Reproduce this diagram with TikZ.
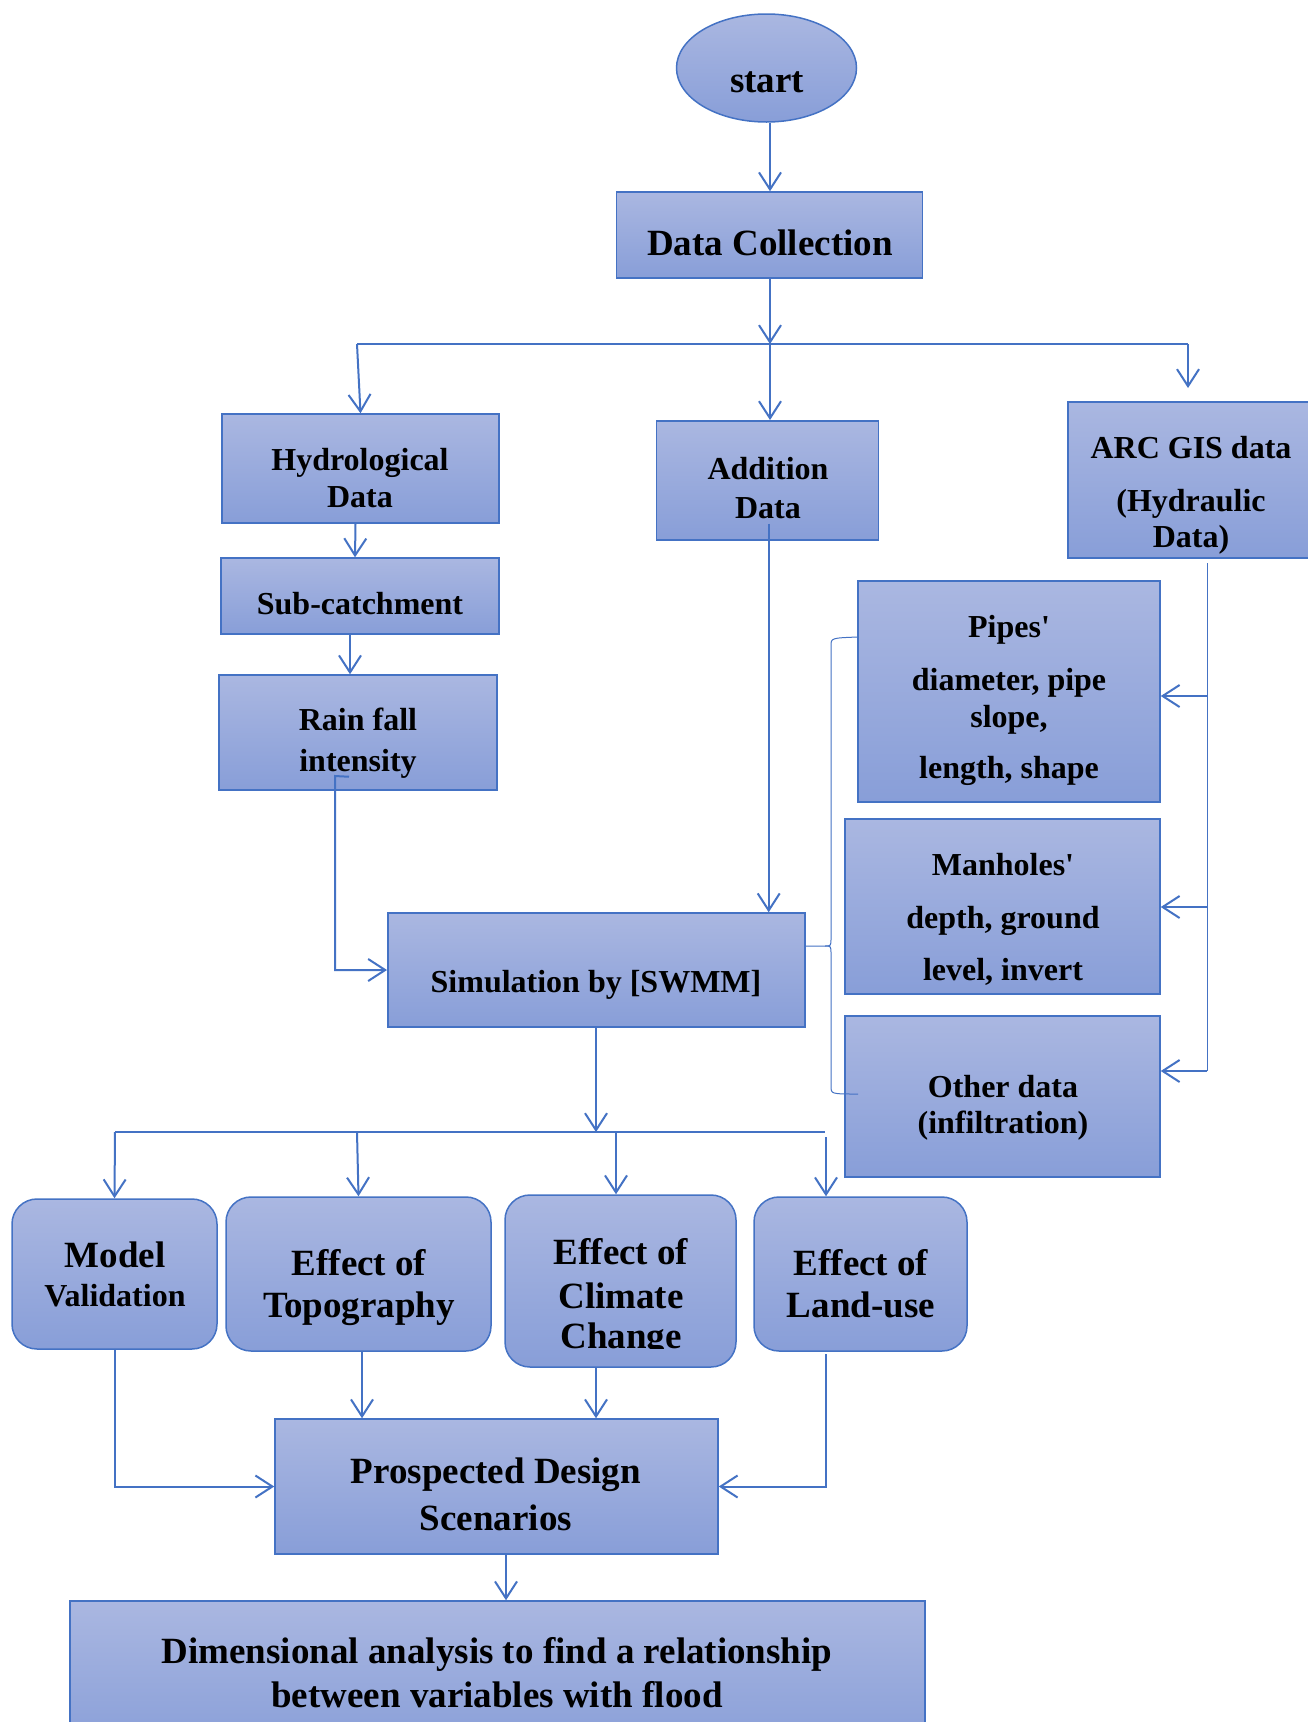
\documentclass[tikz,border=0pt]{standalone}
\usepackage{fontspec}
\setmainfont{Liberation Serif}
\usetikzlibrary{arrows.meta,shapes.geometric,calc}
\definecolor{bl}{RGB}{68,114,196}
\definecolor{ftop}{RGB}{170,183,225}
\definecolor{fbot}{RGB}{136,158,216}
\newcommand\fA{\fontsize{37}{44}\selectfont\bfseries}
\newcommand\fB{\fontsize{32}{38}\selectfont\bfseries}
\begin{document}
\begin{tikzpicture}[x=1pt,y=-1pt,
  box/.style={draw=bl, line width=1.5pt, top color=ftop, bottom color=fbot, inner sep=0pt},
  rbox/.style={box, rounded corners=25pt},
  tA/.style={anchor=base, inner sep=0pt, font=\fA},
  tB/.style={anchor=base, inner sep=0pt, font=\fB},
  arr/.style={draw=bl, line width=2pt, -{Straight Barb[length=17pt,width=22pt]}},
  ln/.style={draw=bl, line width=1.3pt},
  thin/.style={draw=bl, line width=1pt}]
\clip (0,0) rectangle (1308,1722);
\fill[white] (0,0) rectangle (1308,1722);

% ---------- boxes ----------
\node[box, ellipse, minimum width=180pt, minimum height=108pt] (start) at (766.5,68) {};
\node[box, minimum width=306pt, minimum height=86pt] (dc) at (769.5,235) {};
\node[box, minimum width=277pt, minimum height=109pt] (hyd) at (360.5,468.5) {};
\node[box, minimum width=222pt, minimum height=119pt] (add) at (767.7,480.3) {};
\node[box, minimum width=247pt, minimum height=156pt] (arc) at (1191.5,480) {};
\node[box, minimum width=278pt, minimum height=76pt] (sub) at (360,596) {};
\node[box, minimum width=278pt, minimum height=115pt] (rain) at (358,732.5) {};
\node[box, minimum width=302pt, minimum height=221pt] (pipes) at (1009,691.5) {};
\node[box, minimum width=315pt, minimum height=175pt] (man) at (1002.5,906.5) {};
\node[box, minimum width=315pt, minimum height=161pt] (oth) at (1002.5,1096.5) {};
\node[box, minimum width=417pt, minimum height=114pt] (sim) at (596.25,970) {};
\node[rbox, minimum width=205pt, minimum height=150pt] (mv) at (114.5,1274) {};
\node[rbox, minimum width=265pt, minimum height=154pt] (topo) at (358.5,1274) {};
\node[rbox, minimum width=231pt, minimum height=172pt] (clim) at (620.5,1281) {};
\node[rbox, minimum width=213pt, minimum height=154pt] (land) at (860.5,1274) {};
\node[box, minimum width=443pt, minimum height=135pt] (pros) at (496.5,1486.5) {};
\node[box, minimum width=855pt, minimum height=150pt] (dim) at (497.5,1676) {};

% ---------- texts ----------
\node[tA] (tstart) at (767,92) {start};
\node[tA] (tdc) at (770,255) {Data Collection};
\node[tB] (thyd1) at (360,470) {Hydrological};
\node[tB] (thyd2) at (360,507) {Data};
\node[tB] (tadd1) at (768,479) {Addition};
\node[tB] (tadd2) at (768,518) {Data};
\node[tB] (tarc1) at (1191,458) {ARC GIS data};
\node[tB] (tarc2) at (1191,511) {(Hydraulic};
\node[tB] (tarc3) at (1191,547) {Data)};
\node[tB] (tsub) at (360,614) {Sub-catchment};
\node[tB] (train1) at (358,730) {Rain fall};
\node[tB] (train2) at (358,771) {intensity};
\node[tB] (tpip1) at (1009,637) {Pipes\textquotesingle};
\node[tB] (tpip2) at (1009,690) {diameter, pipe};
\node[tB] (tpip3) at (1009,727) {slope,};
\node[tB] (tpip4) at (1009,778) {length, shape};
\node[tB] (tman1) at (1003,875) {Manholes\textquotesingle};
\node[tB] (tman2) at (1003,928) {depth, ground};
\node[tB] (tman3) at (1003,980) {level, invert};
\node[tB] (toth1) at (1003,1097) {Other data};
\node[tB] (toth2) at (1003,1133) {(infiltration)};
\node[tB] (tsim) at (596,992) {Simulation by [SWMM]};
\node[tA] (tmv1) at (115,1267) {Model};
\node[tB] (tmv2) at (115,1306) {Validation};
\node[tA] (ttop1) at (359,1275) {Effect of};
\node[tA] (ttop2) at (359,1317) {Topography};
\node[tA] (tcl1) at (621,1264) {Effect of};
\node[tA] (tcl2) at (621,1308) {Climate};
\begin{scope}
\clip (505,1195) rectangle (736,1348);
\node[tA] (tcl3) at (621,1348) {Change};
\end{scope}
\node[tA] (tla1) at (861,1275) {Effect of};
\node[tA] (tla2) at (861,1317) {Land-use};
\node[tA] (tpr1) at (496,1483) {Prospected Design};
\node[tA] (tpr2) at (496,1530) {Scenarios};
\node[tA] (tdi1) at (497,1663) {Dimensional analysis to find a relationship};
\node[tA] (tdi2) at (497,1707) {between variables with flood};

% ---------- connectors ----------
\coordinate (jt) at (770,344);
\coordinate (jl) at (357,344);
\coordinate (jr) at (1188,344);
\coordinate (arcin) at (1188,388);
\draw[arr] (start.south -| jt) -- (jt |- dc.north);
\draw[arr] (dc.south -| jt) -- (jt);
\draw[ln] (jl) -- (jr);
\draw[arr] (jl) -- (hyd.north);
\draw[arr] (jt) -- (jt |- add.north);
\draw[arr] (jr) -- (arcin);
\draw[arr] ($(hyd.south)+(-5,0)$) -- ($(sub.north)+(-5,0)$);
\draw[arr] ($(sub.south)+(-10,0)$) -- ($(rain.north)+(-8,0)$);
\coordinate (rs) at ($(rain.south)+(-9,-14)$);
\coordinate (rc) at (335,776);
\draw[arr] (rs) -- (rc) |- (sim.west);
\coordinate (as) at ($(add.south)+(1,-17)$);
\draw[arr] (as) -- (as |- sim.north);

% brace from simulation to data boxes
\coordinate (bc) at (825,946);
\coordinate (bt) at (858,637);
\coordinate (bb) at (858,1094);
\draw[thin] (sim.east |- bc) -- (bc) .. controls (831,946) .. (831,938) -- (831,646) .. controls (831,638) .. (bt);
\draw[thin] (bc) .. controls (831,946) .. (831,954) -- (831,1086) .. controls (831,1094) .. (bb);

% ARC GIS distribution
\coordinate (va) at (1207,563);
\coordinate (vb) at (1207,1071);
\draw[thin] (va) -- (vb);
\draw[arr] (1207,696) -- (pipes.east |- 0,696);
\draw[arr] (1207,907) -- (man.east |- 0,907);
\draw[arr] (vb) -- (oth.east |- vb);

% simulation to scenarios
\coordinate (jb) at (596,1132);
\coordinate (b1) at (115,1132);
\coordinate (b2) at (357,1132);
\coordinate (b3) at (616,1132);
\coordinate (b4) at (825,1132);
\coordinate (b4s) at (826,1137);
\draw[arr] (sim.south -| jb) -- (jb);
\draw[ln] (b1) -- (b4);
\draw[arr] (b1) -- (mv.north);
\draw[arr] (b2) -- (topo.north);
\draw[arr] (b3) -- (b3 |- clim.north);
\draw[arr] (b4s) -- (b4s |- land.north);

\coordinate (p1) at (362,1352);
\coordinate (p2) at (596,1368);
\coordinate (p3) at (826,1354);
\draw[arr] (p1) -- (p1 |- pros.north);
\draw[arr] (p2) -- (p2 |- pros.north);
\draw[arr] (mv.south) |- (pros.west);
\draw[arr] (p3) |- (pros.east);
\coordinate (p4) at (506,1554);
\draw[arr] (p4) -- (p4 |- dim.north);
\end{tikzpicture}
\end{document}
